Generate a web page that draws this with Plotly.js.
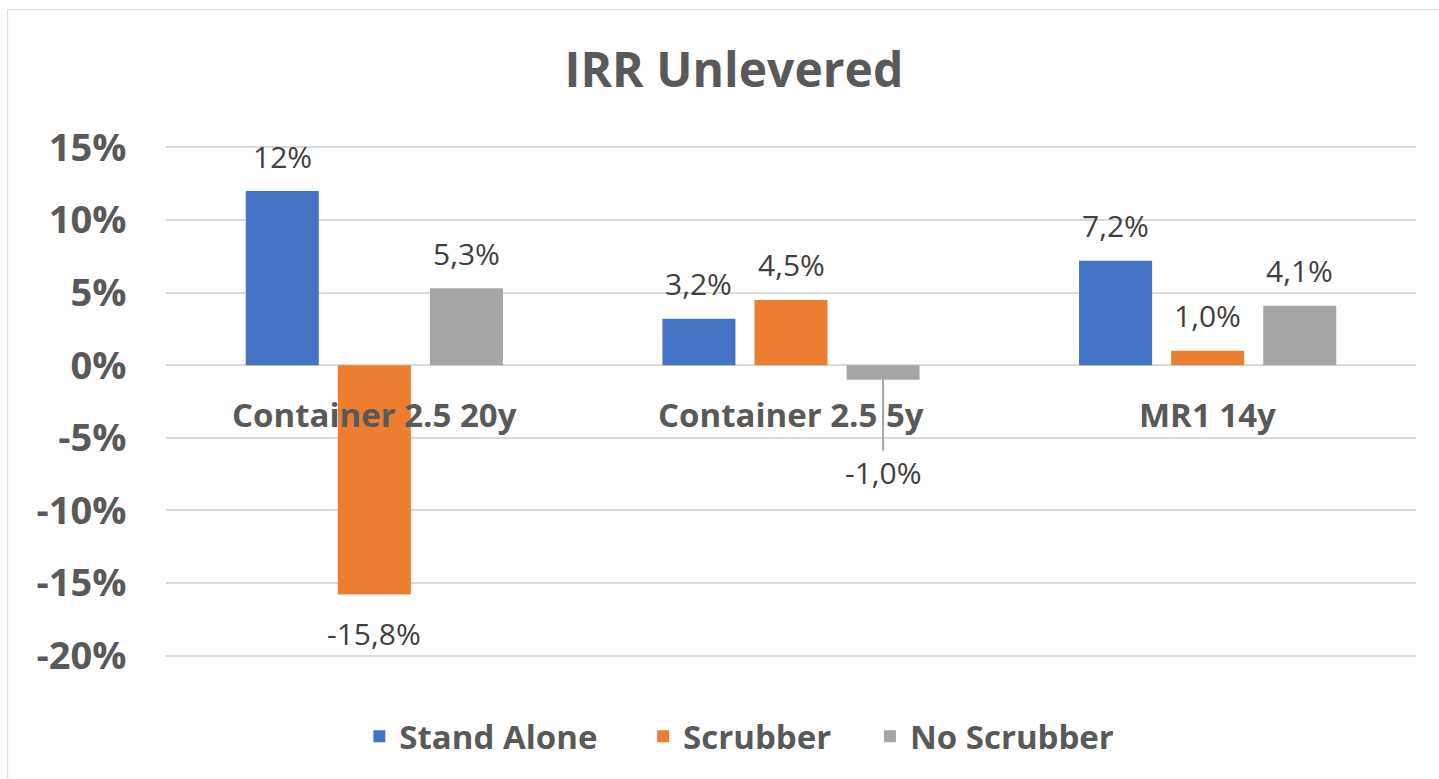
<!DOCTYPE html>
<html>
<head>
<meta charset="utf-8">
<script src="https://cdn.plot.ly/plotly-3.0.1.min.js"></script>
<style>html,body{margin:0;padding:0;background:#fff;}#chart{width:1439px;height:779px;}</style>
</head>
<body>
<div id="chart"></div>
<script>
const categories = ["Container 2.5 20y", "Container 2.5 5y", "MR1 14y"];
const seriesNames = ["Stand Alone", "Scrubber", "No Scrubber"];
const standAlone = [0.12, 0.032, 0.072];
const scrubber = [-0.158, 0.045, 0.010];
const noScrubber = [0.053, -0.010, 0.041];
const standAloneLabels = ["12%", "3,2%", "7,2%"];
const scrubberLabels = ["-15,8%", "4,5%", "1,0%"];
const noScrubberLabels = ["5,3%", "-1,0%", "4,1%"];
const yTickVals = [-0.20, -0.15, -0.10, -0.05, 0, 0.05, 0.10, 0.15];
const yTickText = ["-20%", "-15%", "-10%", "-5%", "0%", "5%", "10%", "15%"];

const colors = ["#4472C4", "#ED7D31", "#A5A5A5"];
const values = [standAlone, scrubber, noScrubber];
const labels = [standAloneLabels, scrubberLabels, noScrubberLabels];
const legendIds = ["legend", "legend2", "legend3"];
const textColor = "#595959";
const font = "'Open Sans', 'Noto Sans', sans-serif";

const traces = values.map((v, i) => ({
  type: "bar",
  name: seriesNames[i],
  x: categories,
  y: v,
  legend: legendIds[i],
  marker: {color: colors[i]},
  hoverinfo: "none"
}));

const bargap = 0.337;
const slot = (1 - bargap) / 3;
const annotations = [];
categories.forEach((c, j) => {
  annotations.push({
    x: j, y: 0, xref: "x", yref: "y", text: c, showarrow: false,
    yanchor: "middle", yshift: -49,
    font: {family: font, size: 33, color: textColor, weight: 700}
  });
});
values.forEach((v, i) => {
  v.forEach((val, j) => {
    const xpos = j + (i - 1) * slot;
    const ann = {
      x: xpos, y: val, xref: "x", yref: "y", text: labels[i][j],
      font: {family: font, size: 30, color: "#404040"}
    };
    if (i === 2 && j === 1) {
      Object.assign(ann, {showarrow: true, arrowhead: 0, arrowwidth: 2,
        arrowcolor: "#A6A6A6", ax: 0, ay: 93, standoff: 0, startstandoff: 0});
    } else {
      Object.assign(ann, {showarrow: false, yanchor: "middle",
        yshift: val >= 0 ? 35 : -39});
    }
    annotations.push(ann);
  });
});

const plotL = 165.5, plotW = 1251;
const legendStarts = [359, 643, 870];
const legendFont = {family: font, size: 33, color: textColor, weight: 700};
function legendAt(px) {
  return {orientation: "h", x: (px - plotL) / plotW, xanchor: "left",
    y: -0.155, yanchor: "middle", font: legendFont, itemclick: false,
    bgcolor: "rgba(0,0,0,0)"};
}

const layout = {
  width: 1439, height: 779,
  margin: {l: plotL, r: 1439 - plotL - plotW, t: 145.5, b: 121.6, pad: 0},
  paper_bgcolor: "#ffffff", plot_bgcolor: "#ffffff",
  title: {
    text: "IRR Unlevered", x: 0.51, xref: "container", xanchor: "center",
    y: 0.91, yref: "container", yanchor: "middle",
    font: {family: font, size: 48, color: textColor, weight: 700}
  },
  barmode: "group", bargap: bargap, bargroupgap: 0.207,
  showlegend: true,
  legend: legendAt(legendStarts[0]),
  legend2: legendAt(legendStarts[1]),
  legend3: legendAt(legendStarts[2]),
  xaxis: {
    type: "category", showticklabels: false, showgrid: false, zeroline: false,
    showline: false, ticks: "", fixedrange: true
  },
  yaxis: {
    range: [-0.201, 0.151], tickvals: yTickVals, ticktext: yTickText,
    showgrid: true, gridcolor: "#D9D9D9", gridwidth: 2,
    zeroline: true, zerolinecolor: "#D9D9D9", zerolinewidth: 2,
    showline: false, ticks: "outside", ticklen: 31, tickcolor: "rgba(0,0,0,0)",
    tickfont: {family: font, size: 38, color: textColor, weight: 700},
    fixedrange: true
  },
  annotations: annotations,
  shapes: [{
    type: "rect", xref: "paper", yref: "paper",
    x0: -0.1267, x1: 1.2, y0: -0.6, y1: 1.267,
    line: {color: "#D9D9D9", width: 1}, fillcolor: "rgba(0,0,0,0)", layer: "below"
  }]
};

Plotly.newPlot("chart", traces, layout, {displayModeBar: false, staticPlot: true});
</script>
</body>
</html>
